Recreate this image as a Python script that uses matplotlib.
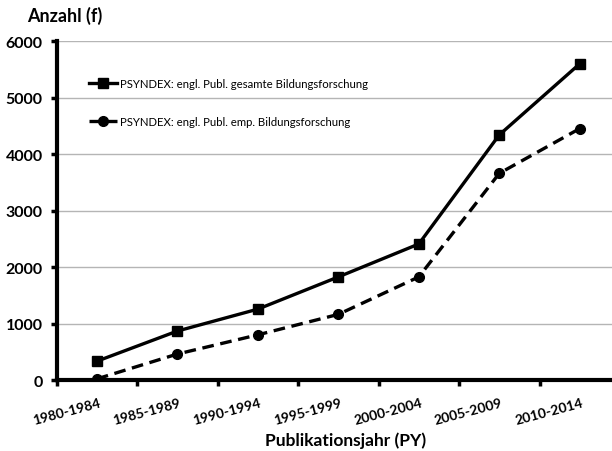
import matplotlib.pyplot as plt

zeitraum = ['1980-1984', '1985-1989', '1990-1994', '1995-1999',
            '2000-2004', '2005-2009', '2010-2014']
gesamt = [333, 867, 1255, 1825, 2408, 4339, 5598]
empirisch = [20, 460, 800, 1162, 1825, 3658, 4451]

plt.rcParams['font.family'] = ['Lato', 'DejaVu Sans']

fig = plt.figure(figsize=(6.12, 4.52), dpi=100)
ax = fig.add_axes([0.0925, 0.157, 0.9206, 0.75])

x = list(range(len(zeitraum)))
ax.plot(x, gesamt, color='black', lw=2.4, marker='s', ms=7,
        label='PSYNDEX: engl. Publ. gesamte Bildungsforschung')
ax.plot(x, empirisch, color='black', lw=2.4, ls=(0, (3.5, 2)), marker='o', ms=7,
        label='PSYNDEX: engl. Publ. emp. Bildungsforschung')

ax.set_xlim(-0.5, len(zeitraum) - 0.5)
ax.set_ylim(0, 6000)
ax.set_yticks(range(0, 6001, 1000))
ax.set_yticklabels([str(v) for v in range(0, 6001, 1000)], fontsize=11.5, fontweight='bold')
ax.yaxis.grid(True, color='#b5b5b5', lw=1)
ax.set_axisbelow(True)

# category boundaries carry the ticks, labels sit under the categories
ax.set_xticks([i - 0.5 for i in x] + [len(x) - 0.5])
ax.set_xticklabels([])
for i, lab in zip(x, zeitraum):
    ax.text(i + 0.02, -290, lab, rotation=15, ha='right', va='top', rotation_mode='anchor',
            fontsize=10, fontweight='bold', clip_on=False)

for s in ['top', 'right']:
    ax.spines[s].set_visible(False)
ax.spines['left'].set_linewidth(3)
ax.spines['bottom'].set_linewidth(3)
ax.tick_params(axis='both', direction='out', length=4, width=2.5, pad=6)

fig.text(0.045, 0.965, 'Anzahl (f)', fontsize=13, fontweight='bold', va='center')
fig.text(0.564, 0.025, 'Publikationsjahr (PY)', fontsize=12.5, fontweight='bold',
         ha='center', va='center')

ax.legend(loc='upper left', bbox_to_anchor=(0.04, 0.92), frameon=False,
          fontsize=8.2, labelspacing=2.3, handlelength=2.4, handletextpad=0.3)

fig.savefig('out.png', dpi=100)
